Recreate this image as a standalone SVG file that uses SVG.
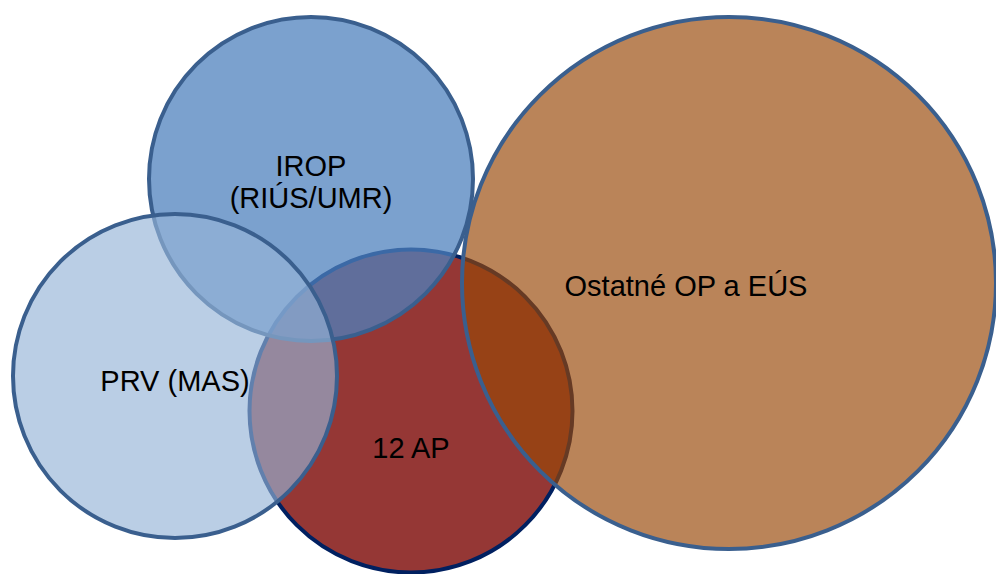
<svg xmlns="http://www.w3.org/2000/svg" width="996" height="574" viewBox="0 0 996 574">
<style>
.c{stroke-width:4}
.t{font-family:"Liberation Sans",Arial,sans-serif;font-size:29px;fill:#000;text-anchor:middle}
</style>
<rect width="996" height="574" fill="#fff"/>
<g id="ap12">
<circle class="c" cx="411" cy="411" r="161.5" fill="#953735" stroke="#002060"/>
<text class="t" x="411" y="458">12 AP</text>
</g>
<g id="irop">
<circle class="c" cx="311" cy="179" r="162" fill="#4F81BD" fill-opacity="0.75" stroke="#3A5F8E"/>
<text class="t" x="311" y="176">IROP</text>
<text class="t" x="311" y="208">(RIÚS/UMR)</text>
</g>
<g id="prv">
<circle class="c" cx="175" cy="376" r="162" fill="#95B3D7" fill-opacity="0.65" stroke="#3A5F8E"/>
<text class="t" x="175" y="391">PRV (MAS)</text>
</g>
<g id="ostatne">
<ellipse class="c" cx="729" cy="283" rx="267" ry="266" fill="#984807" fill-opacity="0.67" stroke="#3A5F8E"/>
<text class="t" x="686" y="296">Ostatné OP a EÚS</text>
</g>
<g id="connectors"/>
</svg>
